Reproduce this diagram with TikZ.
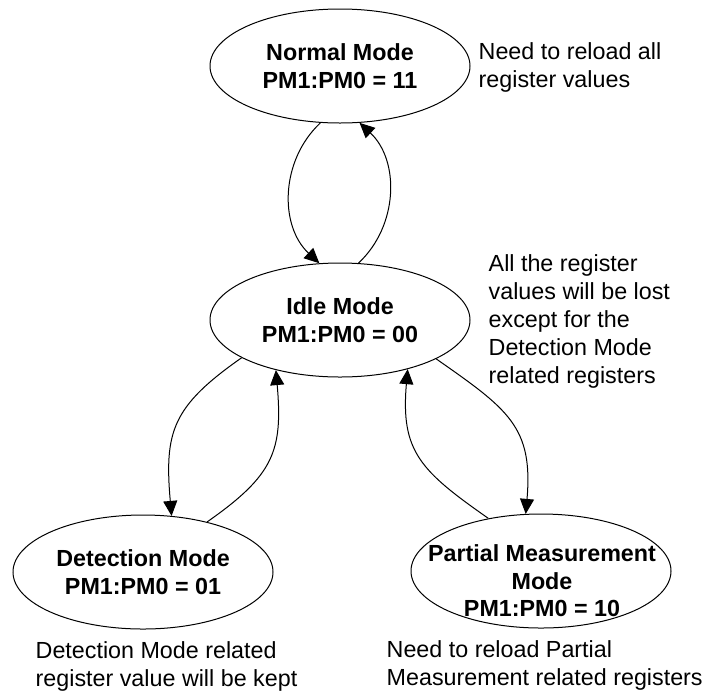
\documentclass[tikz,border=0pt]{standalone}
\usepackage{fontspec}
\setmainfont{Liberation Sans}
\usetikzlibrary{shapes.geometric,arrows.meta}
\begin{document}
\begin{tikzpicture}[x=1pt,y=1pt,
  state/.style={ellipse,draw,line width=1pt,minimum width=260pt,minimum height=114pt,inner sep=0pt,align=center,font=\fontsize{23.3}{28}\selectfont\bfseries},
  statetext/.style={inner sep=0pt,align=center,font=\fontsize{23.3}{27.5}\selectfont\bfseries},
  note/.style={anchor=north west,inner sep=0pt,align=left,font=\fontsize{23.3}{28}\selectfont},
  conn/.style={line width=1pt,-{Triangle[length=15pt,width=14pt]}}]
\useasboundingbox (0,0) rectangle (708,-694);
\node[state] (normal) at (340,-66) {Normal Mode\\PM1:PM0 = 11};
\node[state] (idle) at (340,-320) {Idle Mode\\PM1:PM0 = 00};
\node[state] (detect) at (143,-572) {Detection Mode\\PM1:PM0 = 01};
\node[state] (partial) at (541,-571) {};
\node[statetext] (partiallabel) at (542,-581) {Partial Measurement\\Mode\\PM1:PM0 = 10};
\node[note] (normalnote) at (478.5,-39.4) {\strut Need to reload all\\register values};
\node[note] (idlenote) at (488.5,-251.4) {\strut All the register\\values will be lost\\except for the\\Detection Mode\\related registers};
\node[note] (detectnote) at (35.5,-638.4) {\strut Detection Mode related\\register value will be kept};
\node[note] (partialnote) at (386.5,-637.4) {\strut Need to reload Partial\\Measurement related registers};
\draw[conn] (normal.251) to[out=223,in=137] (idle.110);
\draw[conn] (idle.72) to[out=43,in=317] (normal.289);
\draw[conn] (idle.201) to[out=215,in=95,looseness=1.25] (detect.63);
\draw[conn] (detect.38) to[out=35,in=275,looseness=1.25] (idle.218);
\draw[conn] (idle.338) to[out=325,in=85,looseness=1.25] (partial.105);
\draw[conn] (partial.135) to[out=145,in=265,looseness=1.25] (idle.324);
\end{tikzpicture}
\end{document}
